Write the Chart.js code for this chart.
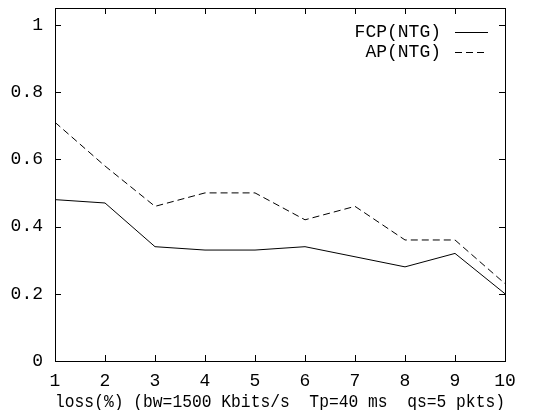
<!DOCTYPE html>
<html>
<head>
<meta charset="utf-8">
<script src="https://cdn.jsdelivr.net/npm/chart.js@4/dist/chart.umd.min.js"></script>
<style>
  html, body { margin: 0; padding: 0; background: #fff; }
  #wrap { width: 545px; height: 410px; }
</style>
</head>
<body>
<div id="wrap"><canvas id="c" width="545" height="410"></canvas></div>
<script>
const lossPct = [1, 2, 3, 4, 5, 6, 7, 8, 9, 10];
const fcpNTG = [0.48, 0.47, 0.34, 0.33, 0.33, 0.34, 0.31, 0.28, 0.32, 0.20];
const apNTG  = [0.71, 0.58, 0.46, 0.50, 0.50, 0.42, 0.46, 0.36, 0.36, 0.23];
const seriesNames = ['FCP(NTG)', 'AP(NTG)'];
const xTitle = 'loss(%) (bw=1500 Kbits/s\u00a0\u00a0Tp=40 ms\u00a0\u00a0qs=5 pkts)';
const yTicks = [0, 0.2, 0.4, 0.6, 0.8, 1];

const FONT = '"Liberation Mono", "DejaVu Sans Mono", monospace';
const FSIZE = 18;
const INK = '#000';

const toXY = (ys) => ys.map((y, i) => ({ x: lossPct[i], y: y }));

const inwardTicks = {
  id: 'inwardTicks',
  afterDraw(chart) {
    const ctx = chart.ctx;
    const a = chart.chartArea;
    const xs = chart.scales.x, ys = chart.scales.y;
    const L = 6;
    ctx.save();
    ctx.fillStyle = INK;
    const l = Math.round(a.left), r = Math.round(a.right), t = Math.round(a.top), b = Math.round(a.bottom);
    for (const v of yTicks) {
      const py = Math.round(ys.getPixelForValue(v));
      ctx.fillRect(l, py, L, 1);
      ctx.fillRect(r - L, py, L, 1);
    }
    for (const v of lossPct) {
      const px = Math.round(xs.getPixelForValue(v));
      ctx.fillRect(px, b - L, 1, L);
      ctx.fillRect(px, t, 1, L);
    }
    ctx.fillRect(l, t, r - l + 1, 1);
    ctx.fillRect(l, b, r - l + 1, 1);
    ctx.fillRect(l, t, 1, b - t + 1);
    ctx.fillRect(r, t, 1, b - t + 1);
    ctx.restore();
  }
};

const keyPlugin = {
  id: 'keyPlugin',
  afterDraw(chart) {
    const ctx = chart.ctx;
    const textRight = 441, lineL = 455, lineR = 488;
    const rows = [32, 52];
    ctx.save();
    ctx.font = FSIZE + 'px ' + FONT;
    ctx.fillStyle = INK;
    ctx.textAlign = 'right';
    ctx.textBaseline = 'middle';
    chart.data.datasets.forEach((ds, i) => {
      const yy = rows[i];
      ctx.fillText(ds.label, textRight, yy);
      ctx.beginPath();
      ctx.strokeStyle = INK;
      ctx.lineWidth = 1;
      ctx.setLineDash(ds.borderDash || []);
      ctx.moveTo(lineL, yy + 0.5);
      ctx.lineTo(lineR, yy + 0.5);
      ctx.stroke();
    });
    ctx.restore();
  }
};

new Chart(document.getElementById('c'), {
  type: 'line',
  data: {
    datasets: [
      { label: seriesNames[0], data: toXY(fcpNTG), borderColor: INK, borderWidth: 1,
        pointRadius: 0, fill: false, tension: 0 },
      { label: seriesNames[1], data: toXY(apNTG), borderColor: INK, borderWidth: 1,
        borderDash: [7, 4], pointRadius: 0, fill: false, tension: 0 }
    ]
  },
  options: {
    responsive: false,
    animation: false,
    devicePixelRatio: 1,
    layout: { padding: { left: 0, right: 40, top: 8, bottom: 0 } },
    plugins: { legend: { display: false }, tooltip: { enabled: false } },
    scales: {
      x: {
        type: 'linear', min: 1, max: 10,
        ticks: { stepSize: 1, color: INK, font: { family: FONT, size: FSIZE }, padding: 9, maxRotation: 0 },
        grid: { display: false, drawTicks: false },
        border: { display: false },
        title: { display: true, text: xTitle, color: INK, font: { family: FONT, size: 18.5 },
                 padding: { top: 0, bottom: -3 } },
        afterFit(s) { s.height = 49; s.paddingLeft = 0; s.paddingRight = 0; }
      },
      y: {
        type: 'linear', min: 0, max: 1.05,
        ticks: { stepSize: 0.2, includeBounds: false, color: INK, font: { family: FONT, size: FSIZE }, padding: 12,
                 callback: (v) => String(Number(v.toFixed(2))) },
        grid: { display: false, drawTicks: false },
        border: { display: false },
        afterFit(s) { s.width = 55; s.paddingTop = 0; s.paddingBottom = 0; }
      }
    }
  },
  plugins: [inwardTicks, keyPlugin]
});
</script>
</body>
</html>
